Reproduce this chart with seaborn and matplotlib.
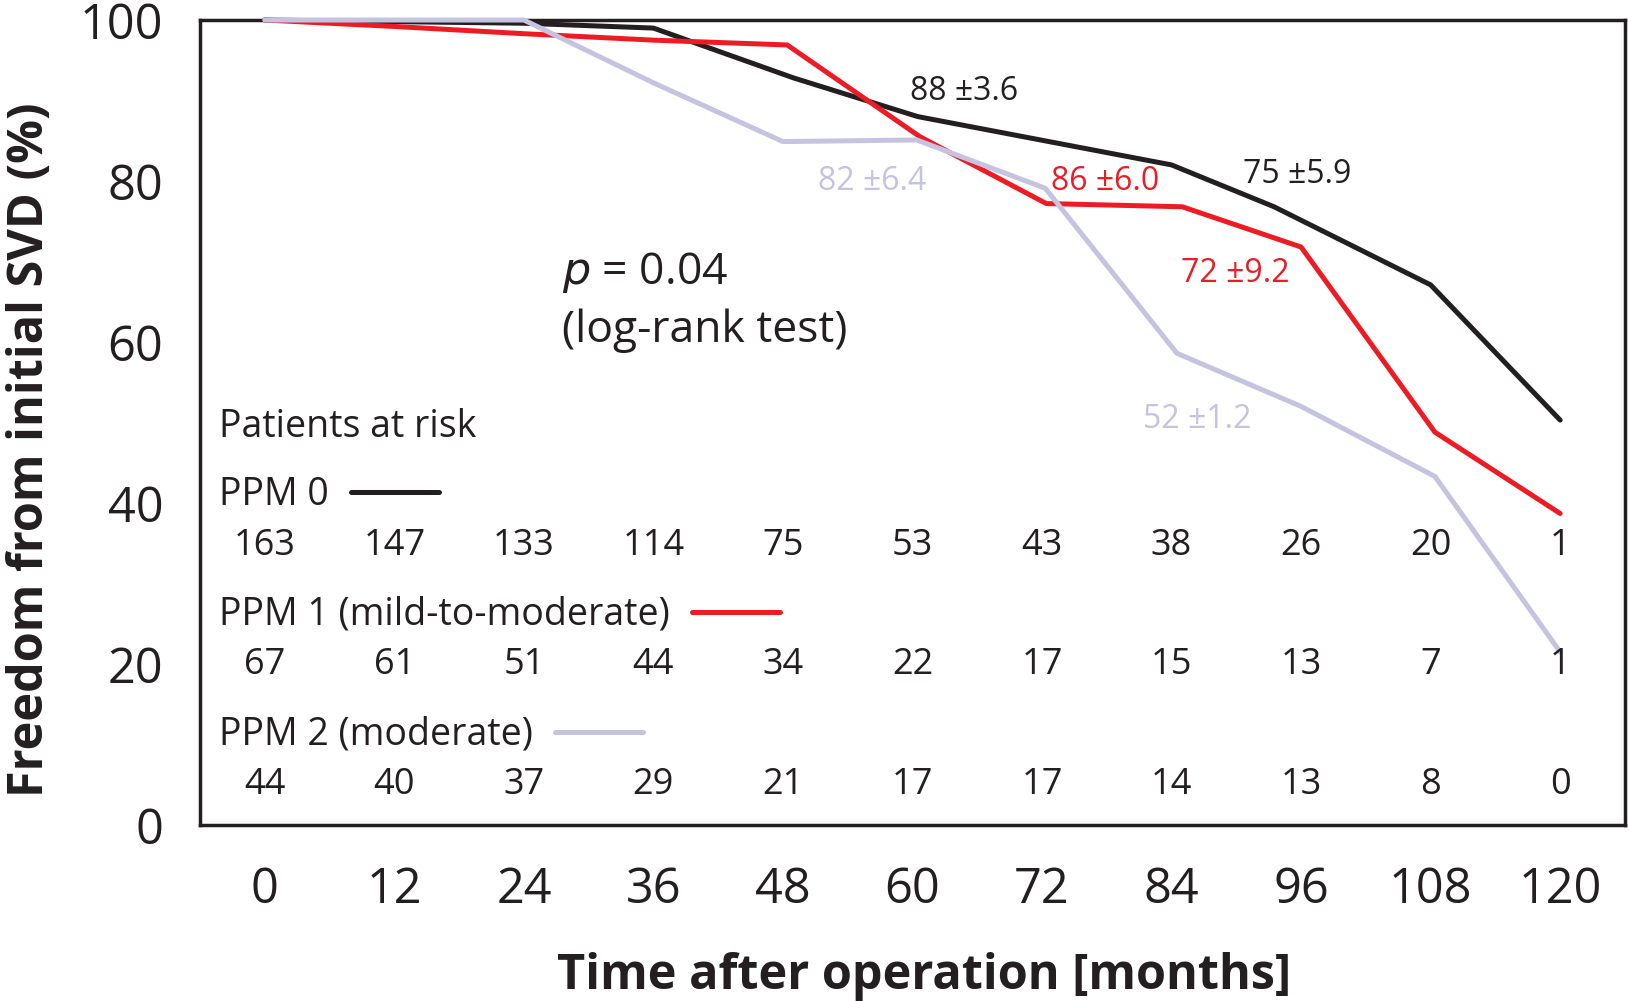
import numpy as np
import pandas as pd
import matplotlib
matplotlib.use('Agg')
import matplotlib.pyplot as plt
import seaborn as sns

# time points shown under the axis / in the risk table
months = [0, 12, 24, 36, 48, 60, 72, 84, 96, 108, 120]

# freedom from initial SVD (%)
ppm0_months = [0, 24, 36, 49, 60.5, 84, 93.5, 108, 120]
ppm0_surv = [100, 99.6, 99.0, 92.8, 88.0, 82.0, 76.8, 67.1, 50.3]

ppm1_months = [0, 12, 24, 36, 48.4, 60.7, 72.4, 85, 96, 108.4, 120]
ppm1_surv = [100, 99.2, 98.3, 97.5, 96.9, 85.5, 77.2, 76.8, 71.8, 48.8, 38.7]

ppm2_months = [0, 24, 36, 48, 60.4, 72.3, 84.5, 96, 108.4, 120]
ppm2_surv = [100, 100, 92.2, 84.9, 85.1, 79.1, 58.6, 52.0, 43.3, 21.5]

# patients at risk
ppm0_risk = [163, 147, 133, 114, 75, 53, 43, 38, 26, 20, 1]
ppm1_risk = [67, 61, 51, 44, 34, 22, 17, 15, 13, 7, 1]
ppm2_risk = [44, 40, 37, 29, 21, 17, 17, 14, 13, 8, 0]

groups = ['PPM 0', 'PPM 1 (mild-to-moderate)', 'PPM 2 (moderate)']
colors = ['#231f20', '#ed1c24', '#c5c3e0']

# point estimates printed next to the curves
est_text = ['88 \u00b13.6', '82 \u00b16.4', '86 \u00b16.0', '75 \u00b15.9', '72 \u00b19.2', '52 \u00b11.2']
est_month = [64.8, 56.3, 77.8, 95.6, 89.9, 86.4]
est_value = [91.1, 80.0, 80.0, 80.8, 68.5, 50.4]
est_group = [0, 2, 1, 0, 1, 2]

sns.set_style('white')
plt.rcParams['font.family'] = ['Open Sans', 'DejaVu Sans']
dark = '#231f20'

df = pd.concat([
    pd.DataFrame({'month': ppm0_months, 'freedom': ppm0_surv, 'group': groups[0]}),
    pd.DataFrame({'month': ppm1_months, 'freedom': ppm1_surv, 'group': groups[1]}),
    pd.DataFrame({'month': ppm2_months, 'freedom': ppm2_surv, 'group': groups[2]}),
])

fig = plt.figure(figsize=(16.29, 10.01), dpi=100)
ax = fig.add_axes([0.1228, 0.1758, 0.8747, 0.8042])
sns.lineplot(data=df, x='month', y='freedom', hue='group', hue_order=groups,
             palette=colors, linewidth=3.6, estimator=None, legend=False, ax=ax)
for line in ax.lines:
    line.set_clip_on(False)
    line.set_zorder(3)

ax.set_xlim(-6, 126)
ax.set_ylim(0, 100)
for sp in ax.spines.values():
    sp.set_visible(True)
    sp.set_color(dark)
    sp.set_linewidth(2.5)

ax.set_xticks(months)
ax.set_xticklabels([str(m) for m in months])
ax.set_xticks(np.arange(-6, 127, 12), minor=True)
ax.tick_params(axis='x', which='major', length=0, pad=29, labelsize=35, labelcolor=dark)
ax.tick_params(axis='x', which='minor', length=14.4, width=2.5, color=dark, direction='out')
ax.set_yticks(range(0, 101, 20))
ax.tick_params(axis='y', length=14.4, width=2.5, color=dark, direction='out',
               pad=12, labelsize=35, labelcolor=dark)

ax.set_xlabel('Time after operation [months]', fontsize=35, fontweight='bold', color=dark)
ax.set_ylabel('Freedom from initial SVD (%)', fontsize=35, fontweight='bold', color=dark)
ax.xaxis.set_label_coords(0.508, -0.158)
ax.yaxis.set_label_coords(-0.102, 0.466)

for t, m, v, g in zip(est_text, est_month, est_value, est_group):
    ax.text(m, v, t, color=colors[g], fontsize=23, ha='center', va='center')

ax.text(27.5, 68.6, '$p$ = 0.04', fontsize=32, color=dark, ha='left', va='center')
ax.text(27.5, 61.4, '(log-rank test)', fontsize=32, color=dark, ha='left', va='center')

# risk table
ax.text(-4.2, 49.4, 'Patients at risk', fontsize=27, color=dark, ha='left', va='center')
label_y = [41.0, 26.1, 11.2]
row_y = [34.7, 19.9, 5.0]
risks = [ppm0_risk, ppm1_risk, ppm2_risk]
keys = []
for i in range(3):
    keys.append(ax.text(-4.2, label_y[i], groups[i], fontsize=27, color=dark,
                        ha='left', va='center'))
    for m, n in zip(months, risks[i]):
        ax.text(m, row_y[i], str(n), fontsize=26, color=dark, ha='center', va='center')

# short coloured key after each group name
fig.canvas.draw()
renderer = fig.canvas.get_renderer()
inv = ax.transData.inverted()
for i, t in enumerate(keys):
    bb = t.get_window_extent(renderer)
    x0 = inv.transform((bb.x1 + 22, 0))[0]
    x1 = inv.transform((bb.x1 + 110, 0))[0]
    ax.plot([x0, x1], [label_y[i] + 0.4, label_y[i] + 0.4], color=colors[i], linewidth=3.6)

fig.savefig('out.png', dpi=100)
